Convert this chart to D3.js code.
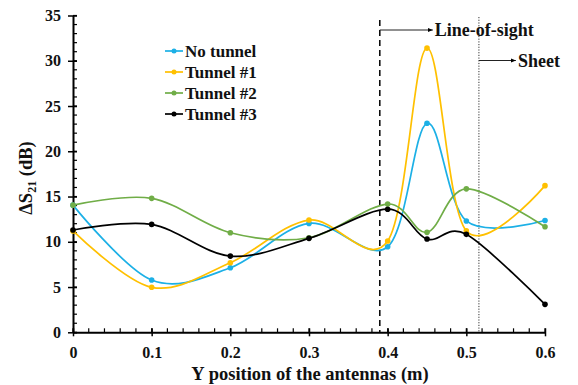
<!DOCTYPE html>
<html><head><meta charset="utf-8">
<script src="https://cdn.jsdelivr.net/npm/d3@7"></script>
<style>
svg text, svg tspan { font-family: "Liberation Serif", Tinos, "Times New Roman" !important; font-weight: bold !important; }
</style>
</head><body style="margin:0">
<svg id="c" width="578" height="385"></svg>
<script>
const xValues = [0, 0.1, 0.2, 0.3, 0.4, 0.45, 0.5, 0.6];
const noTunnel = [14.05, 5.77, 7.13, 12.03, 9.45, 23.1, 12.3, 12.35];
const tunnel1 = [11.2, 4.97, 7.69, 12.4, 10.08, 31.4, 11.2, 16.2];
const tunnel2 = [14.05, 14.8, 11.0, 10.45, 14.17, 11.04, 15.85, 11.66];
const tunnel3 = [11.3, 11.92, 8.42, 10.38, 13.6, 10.3, 10.82, 3.09];
const seriesNames = ["No tunnel", "Tunnel #1", "Tunnel #2", "Tunnel #3"];
const xTicks = [0, 0.1, 0.2, 0.3, 0.4, 0.5, 0.6];
const yTicks = [0, 5, 10, 15, 20, 25, 30, 35];
const markerLines = [{x: 0.39, label: "Line-of-sight"}, {x: 0.516, label: "Sheet"}];

const FONT = "Liberation Serif";
const colors = ["#1cb0e6", "#ffc000", "#70ad47", "#000000"];
const allSeries = [noTunnel, tunnel1, tunnel2, tunnel3];

const svg = d3.select("#c");
const x = d3.scaleLinear().domain([0, 0.6]).range([73, 545]);
const y = d3.scaleLinear().domain([0, 35]).range([332.3, 15.5]);

function txt(sel, size) {
  return sel.attr("font-family", FONT).attr("font-weight", "bold").attr("font-size", size).attr("fill", "#111")
    .style("font-family", '"Liberation Serif"').style("font-weight", "bold").style("font-size", size + "px");
}

const gx = svg.append("g");
gx.selectAll("line.minx").data(d3.range(0, 0.6001, 0.02)).join("line")
  .attr("x1", d => x(d)).attr("x2", d => x(d)).attr("y1", y(0)).attr("y2", y(0) - 4)
  .attr("stroke", "#000").attr("stroke-width", 1.2);
gx.selectAll("line.miny").data(d3.range(0, 35.001, 1)).join("line")
  .attr("x1", x(0)).attr("x2", x(0) + 4).attr("y1", d => y(d)).attr("y2", d => y(d))
  .attr("stroke", "#000").attr("stroke-width", 1.2);

const xAxis = d3.axisBottom(x).tickValues(xTicks).tickFormat(d => d === 0 ? "0" : d3.format(".1f")(d)).tickSizeInner(4).tickSizeOuter(0).tickPadding(10);
const ax = svg.append("g").attr("transform", `translate(0,${y(0)})`).call(xAxis);
ax.selectAll(".tick line").attr("y1", -4).attr("stroke-width", 1.5);
const yAxis = d3.axisLeft(y).tickValues(yTicks).tickSizeInner(5).tickSizeOuter(0).tickPadding(7);
const ay = svg.append("g").attr("transform", `translate(${x(0)},0)`).call(yAxis);
ay.selectAll(".tick line").attr("x1", 4).attr("stroke-width", 1.5);
[ax, ay].forEach(a => {
  a.attr("font-family", FONT).attr("font-size", 16);
  a.select(".domain").attr("stroke", "#000").attr("stroke-width", 2);
  txt(a.selectAll("text"), 16);
});

const ml = svg.append("g");
ml.append("line").attr("x1", x(markerLines[0].x)).attr("x2", x(markerLines[0].x)).attr("y1", 20).attr("y2", y(0))
  .attr("stroke", "#000").attr("stroke-width", 1.5).attr("stroke-dasharray", "6,4");
ml.append("line").attr("x1", x(markerLines[1].x)).attr("x2", x(markerLines[1].x)).attr("y1", 17).attr("y2", y(0))
  .attr("stroke", "#333").attr("stroke-width", 1).attr("stroke-dasharray", "1.2,1.5");
svg.append("defs").append("marker").attr("id", "ah").attr("viewBox", "0 0 10 10").attr("refX", 10).attr("refY", 5)
  .attr("markerWidth", 5).attr("markerHeight", 5).attr("orient", "auto")
  .append("path").attr("d", "M0,1L10,5L0,9z").attr("fill", "#000");
const arrowY = [30, 60.5];
markerLines.forEach((m, i) => {
  const x0 = x(m.x);
  ml.append("line").attr("x1", x0).attr("x2", x0 + (i === 0 ? 53 : 37)).attr("y1", arrowY[i]).attr("y2", arrowY[i])
    .attr("stroke", "#222").attr("stroke-width", 1).attr("marker-end", "url(#ah)");
  txt(ml.append("text").attr("x", x0 + (i === 0 ? 55 : 39)).attr("y", arrowY[i] + 6), 18).text(m.label);
});

const line = d3.line().x((d, i) => x(xValues[i])).y(d => y(d)).curve(d3.curveCardinal.tension(0));
allSeries.forEach((s, k) => {
  const g = svg.append("g");
  g.append("path").attr("d", line(s)).attr("fill", "none").attr("stroke", colors[k]).attr("stroke-width", 1.7);
  g.selectAll("circle").data(s).join("circle").attr("cx", (d, i) => x(xValues[i])).attr("cy", d => y(d)).attr("r", 2.8).attr("fill", colors[k]);
});

const legY = [51, 72, 93, 114];
const lg = svg.append("g");
seriesNames.forEach((n, k) => {
  lg.append("line").attr("x1", 165).attr("x2", 183).attr("y1", legY[k]).attr("y2", legY[k]).attr("stroke", colors[k]).attr("stroke-width", 1.7);
  lg.append("circle").attr("cx", 174).attr("cy", legY[k]).attr("r", 2.5).attr("fill", colors[k]);
  txt(lg.append("text").attr("x", 185).attr("y", legY[k] + 5.5), 17).text(n);
});

const tg = svg.append("g");
txt(tg.append("text").attr("x", 310).attr("y", 380).attr("text-anchor", "middle"), 18.5).text("Y position of the antennas (m)");
const yt = txt(tg.append("text").attr("transform", "translate(32,178) rotate(-90)").attr("text-anchor", "middle"), 18.5);
yt.append("tspan").text("ΔS");
yt.append("tspan").style("font-size", "12px").attr("dy", 4).text("21");
yt.append("tspan").attr("dy", -4).text(" (dB)");
</script></body></html>
